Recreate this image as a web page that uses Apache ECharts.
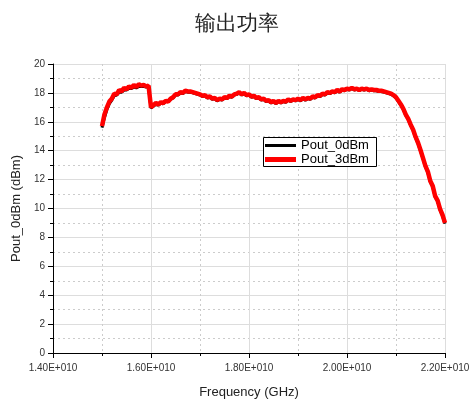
<!DOCTYPE html>
<html><head><meta charset="utf-8">
<script src="https://cdn.jsdelivr.net/npm/echarts@6/dist/echarts.min.js"></script>
<style>html,body{margin:0;padding:0;background:#fff}#c{width:473px;height:402px}</style>
</head><body><div id="c"></div>
<script>
var titleText = '输出功率';
var xName = 'Frequency (GHz)';
var yName = 'Pout_0dBm (dBm)';
var seriesNames = ['Pout_0dBm', 'Pout_3dBm'];
// frequency grid in units of 1E+010 Hz: 1.500 .. 2.200 step 0.005
var freqStart = 1.5, freqStep = 0.005;
var pout3 = [
15.7,16.5,17.0,17.4,17.6,17.95,17.9,18.2,18.1,18.35,18.25,18.45,18.35,18.55,18.4,18.6,18.5,18.55,18.45,18.5,
17.0,17.15,17.3,17.2,17.35,17.3,17.45,17.4,17.6,17.7,17.9,17.9,18.05,18.0,18.15,18.1,18.1,18.05,18.0,17.95,
17.9,17.8,17.85,17.7,17.75,17.6,17.65,17.5,17.6,17.55,17.7,17.65,17.8,17.75,17.9,17.95,18.05,17.9,18.0,17.85,
17.9,17.75,17.8,17.65,17.7,17.55,17.6,17.45,17.5,17.35,17.45,17.3,17.45,17.35,17.45,17.4,17.55,17.45,17.55,17.5,
17.6,17.5,17.65,17.55,17.65,17.6,17.75,17.7,17.85,17.8,17.95,17.9,18.05,18.0,18.1,18.05,18.2,18.1,18.25,18.2,
18.3,18.25,18.35,18.25,18.3,18.2,18.3,18.25,18.3,18.2,18.25,18.2,18.2,18.15,18.15,18.1,18.05,18.0,17.95,17.85,
17.7,17.45,17.2,16.9,16.5,16.2,15.8,15.45,14.95,14.55,14.05,13.5,12.95,12.55,11.9,11.55,10.85,10.55,9.95,9.55,
9.0];
var pout0 = [
15.6,16.3,16.85,17.25,17.5,17.8,17.85,18.05,18.05,18.2,18.2,18.3,18.3,18.4,18.35,18.45,18.45,18.45,18.4,18.4,
16.95,17.1,17.2,17.15,17.3,17.25,17.4,17.4,17.55,17.65,17.85,17.85,18.0,17.95,18.1,18.05,18.05,18.0,17.95,17.9,
17.85,17.75,17.8,17.65,17.7,17.55,17.6,17.45,17.55,17.5,17.65,17.6,17.75,17.7,17.85,17.9,18.0,17.85,17.95,17.8,
17.85,17.7,17.75,17.6,17.65,17.5,17.55,17.4,17.45,17.3,17.4,17.25,17.4,17.3,17.4,17.35,17.5,17.4,17.5,17.45,
17.55,17.45,17.6,17.5,17.6,17.55,17.7,17.65,17.8,17.75,17.9,17.85,18.0,17.95,18.05,18.0,18.15,18.05,18.2,18.15,
18.25,18.2,18.3,18.2,18.25,18.15,18.25,18.2,18.25,18.15,18.2,18.15,18.15,18.1,18.1,18.05,18.0,17.95,17.9,17.8,
17.65,17.4,17.15,16.85,16.45,16.15,15.75,15.4,14.9,14.5,14.0,13.45,12.9,12.5,11.85,11.5,10.8,10.5,9.9,9.5,
8.95];

function pairs(vals){
  var out=[];
  for(var i=0;i<vals.length;i++){ out.push([Math.round((freqStart+i*freqStep)*1000)/1000*1e10, vals[i]]); }
  return out;
}
var font='"Liberation Sans", Arial, sans-serif';
var legendText={fontSize:13,color:'#000',fontFamily:font};
var chart = echarts.init(document.getElementById('c'), null, {renderer:'canvas'});
chart.setOption({
  animation:false,
  backgroundColor:'#fff',
  title:{text:titleText,left:'center',top:9,textStyle:{fontSize:21,fontWeight:'normal',color:'#222',fontFamily:'serif'}},
  grid:{left:53,right:28,top:64,bottom:49,outerBoundsMode:'none',containLabel:false},
  graphic:[{type:'rect',left:263,top:137,shape:{width:113,height:29},
    style:{fill:'#fff',stroke:'#000',lineWidth:1},z:100}],
  legend:[
    {data:[{name:seriesNames[0],icon:'rect'}], left:265, top:139, padding:0,
     itemWidth:31, itemHeight:3, itemGap:0, textStyle:legendText, z:101},
    {data:[{name:seriesNames[1],icon:'rect'}], left:265, top:153, padding:0,
     itemWidth:31, itemHeight:5, itemGap:0, textStyle:legendText, z:101}
  ],
  xAxis:{
    type:'value', min:1.4e10, max:2.2e10, interval:2e9,
    name:xName, nameLocation:'middle', nameGap:33,
    nameTextStyle:{fontSize:13,color:'#222',fontFamily:font},
    axisLine:{show:true,onZero:false,lineStyle:{color:'#000',width:1}},
    axisTick:{show:true,inside:false,length:5,lineStyle:{color:'#000'}},
    minorTick:{show:true,splitNumber:2,length:3,lineStyle:{color:'#000'}},
    axisLabel:{fontSize:10,color:'#333',fontFamily:font,margin:10,
      formatter:function(v){return (v/1e10).toFixed(2)+'E+010';}},
    splitLine:{show:true,lineStyle:{color:'#ddd',width:1,type:'solid'}},
    minorSplitLine:{show:true,lineStyle:{color:'#ccc',width:1,type:[2,3]}}
  },
  yAxis:{
    type:'value', min:0, max:20, interval:2,
    name:yName, nameLocation:'middle', nameGap:30, nameRotate:90,
    nameTextStyle:{fontSize:13,color:'#222',fontFamily:font},
    axisLine:{show:true,lineStyle:{color:'#000',width:1}},
    axisTick:{show:true,inside:false,length:5,lineStyle:{color:'#000'}},
    minorTick:{show:true,splitNumber:2,length:3,lineStyle:{color:'#000'}},
    axisLabel:{fontSize:10,color:'#333',fontFamily:font,margin:8},
    splitLine:{show:true,lineStyle:{color:'#ddd',width:1,type:'solid'}},
    minorSplitLine:{show:true,lineStyle:{color:'#ccc',width:1,type:[2,3]}}
  },
  series:[
    {name:seriesNames[0],type:'line',data:pairs(pout0),showSymbol:false,symbol:'none',
     lineStyle:{color:'#000',width:3},itemStyle:{color:'#000'},z:2},
    {name:seriesNames[1],type:'line',data:pairs(pout3),showSymbol:false,symbol:'none',
     lineStyle:{color:'#f00',width:4.5},itemStyle:{color:'#f00'},z:3}
  ]
});
</script></body></html>
